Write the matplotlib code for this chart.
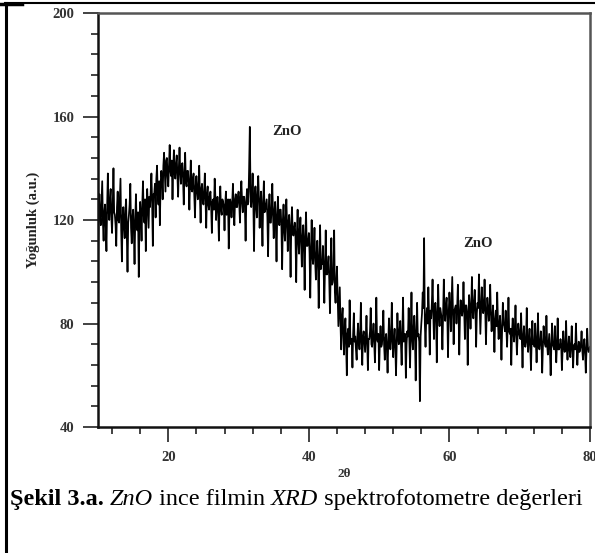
import matplotlib
matplotlib.use("Agg")
import matplotlib.pyplot as plt
import numpy as np
from matplotlib.lines import Line2D
from matplotlib.text import Annotation
from matplotlib.ticker import MultipleLocator

plt.rcParams['font.family'] = ['Liberation Serif', 'DejaVu Serif']

# 2-theta start / step (degrees) and intensity values
two_theta_start = 10.0
two_theta_step = 0.1
intensity = [
    102, 124, 130, 121, 118, 127, 135, 119, 112, 123,
    126, 118, 108, 125, 138, 124, 120, 128, 132, 121,
    115, 126, 140, 123, 122, 118, 110, 125, 131, 120,
    119, 127, 136, 116, 104, 121, 125, 117, 113, 124,
    128, 115, 100, 119, 122, 126, 134, 117, 111, 121,
    124, 116, 103, 120, 130, 118, 116, 123, 98, 119,
    127, 121, 112, 126, 135, 122, 119, 128, 108, 124,
    132, 125, 117, 129, 125, 131, 138, 127, 110, 130,
    130, 134, 121, 136, 141, 130, 126, 135, 118, 133,
    139, 136, 128, 141, 146, 138, 131, 143, 144, 137,
    133, 141, 149, 139, 137, 143, 128, 140, 147, 138,
    136, 142, 145, 137, 129, 140, 148, 139, 134, 141,
    142, 136, 126, 138, 146, 135, 133, 139, 139, 134,
    124, 135, 143, 132, 131, 136, 138, 130, 121, 133,
    137, 131, 128, 134, 141, 129, 119, 132, 134, 128,
    126, 131, 138, 127, 117, 130, 133, 126, 124, 129,
    131, 125, 115, 127, 128, 124, 136, 129, 120, 126,
    129, 123, 112, 127, 133, 124, 122, 128, 127, 125,
    116, 126, 131, 122, 124, 128, 109, 123, 128, 126,
    121, 127, 134, 124, 118, 128, 130, 125, 125, 129,
    131, 126, 119, 130, 135, 127, 123, 129, 129, 125,
    112, 127, 132, 126, 127, 140, 156, 131, 125, 129,
    138, 127, 108, 130, 133, 125, 121, 131, 137, 128,
    117, 126, 131, 122, 110, 127, 135, 123, 124, 126,
    128, 121, 106, 124, 130, 119, 119, 125, 134, 122,
    113, 123, 127, 118, 104, 122, 129, 120, 118, 124,
    124, 117, 101, 120, 126, 116, 112, 121, 128, 118,
    108, 119, 122, 114, 98, 118, 125, 115, 114, 117,
    119, 113, 96, 115, 124, 112, 107, 116, 121, 112,
    102, 113, 118, 109, 93, 114, 123, 110, 110, 112,
    115, 107, 90, 108, 120, 106, 103, 109, 117, 104,
    97, 106, 112, 103, 86, 105, 118, 101, 104, 103,
    110, 101, 88, 103, 116, 99, 99, 102, 106, 97,
    84, 98, 113, 95, 96, 99, 116, 92, 88, 96,
    102, 91, 79, 87, 94, 80, 70, 82, 86, 76,
    68, 77, 82, 72, 60, 76, 78, 71, 89, 75,
    72, 74, 63, 76, 84, 73, 75, 70, 66, 75,
    80, 73, 70, 76, 88, 72, 64, 75, 77, 73,
    69, 75, 83, 72, 62, 74, 74, 77, 86, 72,
    71, 76, 80, 72, 65, 75, 90, 74, 73, 76,
    62, 73, 79, 71, 72, 76, 85, 72, 66, 74,
    76, 70, 61, 73, 82, 74, 70, 76, 88, 73,
    67, 74, 78, 71, 60, 73, 84, 75, 72, 77,
    81, 72, 64, 76, 90, 73, 74, 76, 59, 72,
    77, 75, 86, 73, 63, 77, 92, 74, 70, 78,
    83, 74, 58, 76, 88, 75, 76, 73, 50, 75,
    80, 84, 92, 86, 113, 80, 71, 82, 86, 80,
    94, 83, 68, 85, 82, 88, 97, 84, 74, 86,
    88, 82, 65, 84, 95, 83, 79, 86, 84, 82,
    70, 84, 97, 85, 81, 87, 90, 83, 67, 84,
    92, 86, 77, 88, 98, 84, 72, 85, 86, 87,
    80, 86, 95, 84, 68, 83, 89, 85, 83, 86,
    96, 85, 74, 87, 87, 84, 64, 83, 91, 86,
    78, 86, 98, 85, 82, 88, 93, 85, 71, 84,
    88, 86, 99, 87, 76, 85, 94, 88, 84, 86,
    97, 85, 72, 84, 90, 86, 81, 85, 95, 84,
    77, 82, 87, 80, 69, 81, 85, 79, 92, 81,
    74, 79, 83, 77, 66, 78, 88, 80, 79, 77,
    85, 78, 71, 79, 90, 77, 76, 78, 64, 76,
    82, 77, 73, 78, 87, 76, 68, 75, 80, 77,
    75, 74, 84, 73, 63, 75, 79, 72, 71, 74,
    86, 73, 69, 74, 78, 72, 62, 73, 81, 72,
    73, 71, 80, 72, 65, 73, 84, 71, 70, 73,
    77, 72, 61, 71, 79, 74, 72, 71, 83, 72,
    68, 72, 76, 70, 60, 71, 80, 72, 71, 70,
    79, 71, 65, 72, 82, 70, 70, 71, 74, 72,
    62, 70, 77, 71, 69, 72, 81, 70, 66, 71,
    75, 70, 67, 72, 79, 70, 63, 71, 72, 70,
    80, 71, 64, 70, 73, 69, 70, 72, 77, 70,
    66, 71, 74, 69, 61, 70, 78, 71, 69, 70,
    71,
]
two_theta = two_theta_start + two_theta_step * np.arange(len(intensity))

x_ticks = [20, 40, 60, 80]
y_ticks = [40, 80, 120, 160, 200]
peak_labels = ["ZnO", "ZnO"]
peak_label_pos = [(36.9, 154.4), (64.1, 111.1)]

fig = plt.figure(figsize=(5.95, 5.53), dpi=100)
ax = fig.add_axes([0.1647, 0.2278, 0.8269, 0.7486])

ax.plot(two_theta, intensity, color='black', lw=1.25)

ax.set_xlim(10, 80)
ax.set_ylim(40, 200)
ax.set_xticks(x_ticks)
ax.set_yticks(y_ticks)
ax.xaxis.set_minor_locator(MultipleLocator(4))
ax.yaxis.set_minor_locator(MultipleLocator(8))
ax.tick_params(which='major', direction='out', length=11, width=1.2, color='#222222',
               labelsize=10.5, labelcolor='#333333', pad=6)
ax.tick_params(which='minor', direction='out', length=5, width=1.2, color='#222222')
for lab in ax.get_xticklabels() + ax.get_yticklabels():
    lab.set_fontweight('bold')

for s in ['left', 'bottom']:
    ax.spines[s].set_linewidth(1.8)
    ax.spines[s].set_color('#111111')
for s in ['top', 'right']:
    ax.spines[s].set_linewidth(1.8)
    ax.spines[s].set_color('#555555')

ax.set_ylabel('Yoğunluk (a.u.)', fontsize=10.5, fontweight='bold', color='#222222', labelpad=9)
ax.set_xlabel('2θ', fontsize=9.5, fontweight='bold', color='#333333', labelpad=3)

for txt, (px, py) in zip(peak_labels, peak_label_pos):
    ax.text(px, py, txt, fontsize=10.5, fontweight='bold', ha='center', va='center', color='#222222')

# outer frame (top and left edges)
fig.add_artist(Line2D([0.009, 1.0], [0.995, 0.995], transform=fig.transFigure, color='black', lw=1.5))
fig.add_artist(Line2D([0.010, 0.010], [0.0, 0.995], transform=fig.transFigure, color='black', lw=2.2))
fig.add_artist(Line2D([0.0, 0.037], [0.992, 0.992], transform=fig.transFigure, color='black', lw=2.5))

# caption with mixed styles, pieces chained left to right
cap_parts = [("Şekil 3.a. ", 'bold', 'normal'), ("ZnO", 'normal', 'italic'),
             (" ince filmin ", 'normal', 'normal'), ("XRD", 'normal', 'italic'),
             (" spektrofotometre değerleri", 'normal', 'normal')]
cap_size = 17.5
anchor = fig.text(0.016, 0.077, cap_parts[0][0], fontsize=cap_size, fontweight=cap_parts[0][1],
                  fontstyle=cap_parts[0][2], va='bottom', ha='left')
for txt, w, st in cap_parts[1:]:
    anchor = fig.add_artist(Annotation(
        txt, xy=(1, 0), xycoords=anchor, va='bottom', ha='left',
        fontsize=cap_size, fontweight=w, fontstyle=st))

fig.savefig('out.png', dpi=100)
